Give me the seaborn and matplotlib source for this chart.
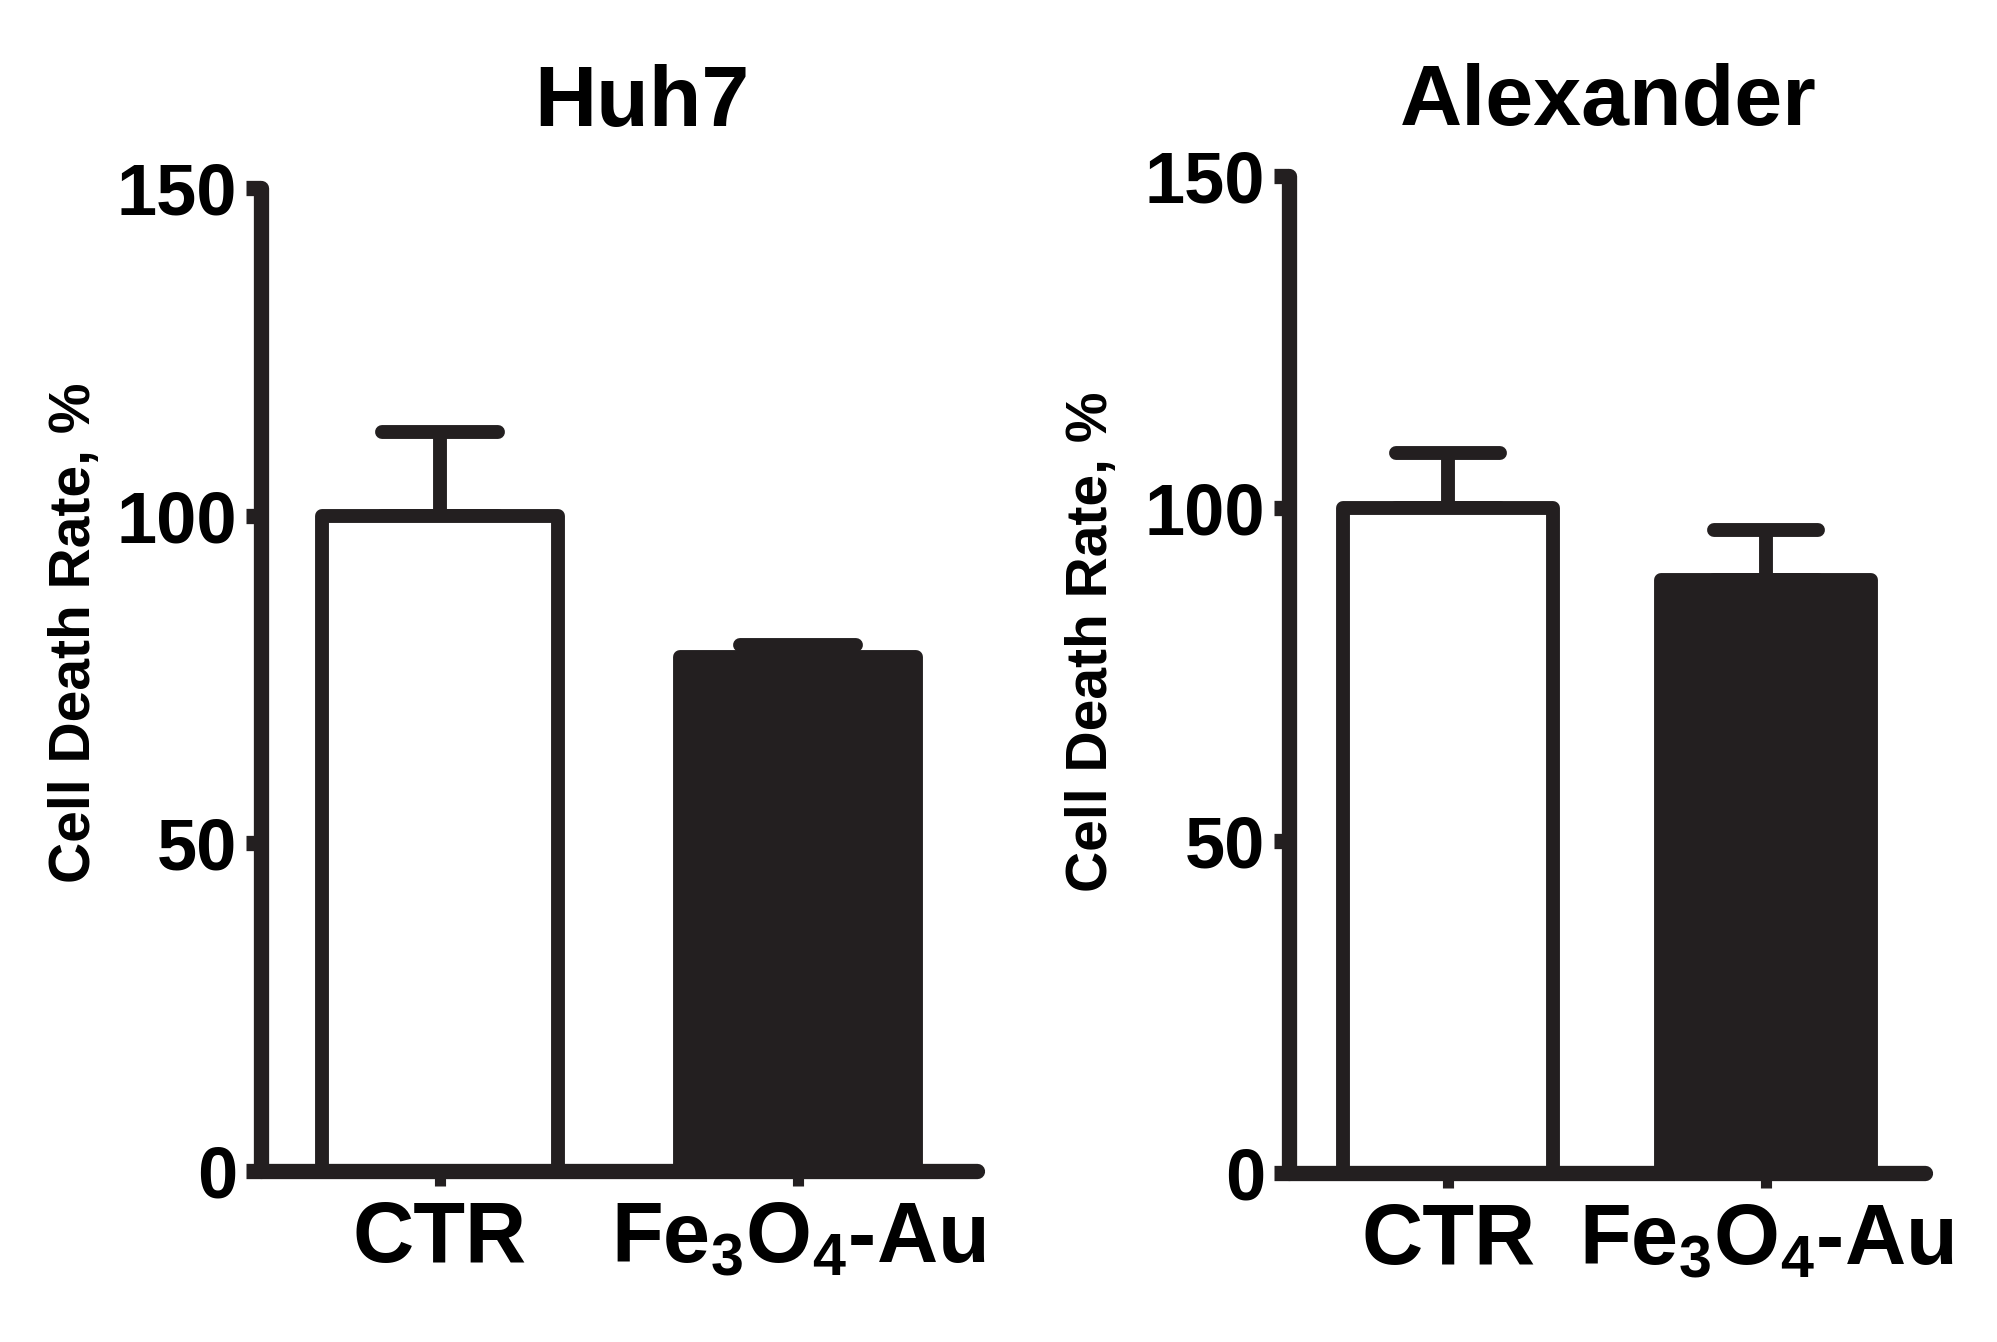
import matplotlib
matplotlib.use("Agg")
import matplotlib.pyplot as plt
from matplotlib.markers import MarkerStyle
import seaborn as sns
import pandas as pd

# ---- data ----
groups = ["CTR", r"Fe$_3$O$_4$-Au"]
huh7_mean = [100.0, 78.5]
huh7_err = [12.8, 1.8]
alex_mean = [100.0, 89.2]
alex_err = [8.3, 7.5]
titles = ["Huh7", "Alexander"]
yticks = [0, 50, 100, 150]
ylabel = "Cell Death Rate, %"

DARK = "#231f20"
bar_colors = ["white", DARK]

sns.set_style("ticks")
plt.rcParams["font.family"] = ["Liberation Sans", "DejaVu Sans"]
plt.rcParams["font.weight"] = "bold"
plt.rcParams["text.color"] = "black"
plt.rcParams["mathtext.fontset"] = "custom"
plt.rcParams["mathtext.rm"] = "Liberation Sans:bold"
plt.rcParams["mathtext.it"] = "Liberation Sans:bold"
plt.rcParams["mathtext.bf"] = "Liberation Sans:bold"
plt.rcParams["mathtext.default"] = "regular"

fig = plt.figure(figsize=(19.97, 13.42), dpi=100)
ax1 = fig.add_axes([0.1307, 0.1274, 0.3585, 0.7325])
ax2 = fig.add_axes([0.6455, 0.1259, 0.3185, 0.7429])

panels = [
    (ax1, huh7_mean, huh7_err, titles[0], 0.532, 44.6, 42, (-0.222, 0.548)),
    (ax2, alex_mean, alex_err, titles[1], 0.502, 36.7, 37.5, (-0.267, 0.533)),
]

for ax, means, errs, title, tx, tpad, capsize, lab in panels:
    df = pd.DataFrame({"group": groups, "rate": means})
    sns.barplot(data=df, x="group", y="rate", hue="group", palette=bar_colors,
                edgecolor=DARK, linewidth=10, width=0.66, errorbar=None,
                legend=False, saturation=1, ax=ax, zorder=2)
    for p in ax.patches:
        p.set_joinstyle("round")
    eb = ax.errorbar(x=list(range(len(groups))), y=means,
                     yerr=[[0] * len(errs), errs], fmt="none", ecolor=DARK,
                     elinewidth=10, capsize=capsize, capthick=10, zorder=1)
    for cl in eb[1]:
        cl.set_marker(MarkerStyle("_", capstyle="round"))
    ax.set_xlim(-0.5, 1.5)
    ax.set_ylim(0, 150)
    ax.set_yticks(yticks)
    ax.set_xlabel("")
    ax.set_ylabel(ylabel, fontsize=41, fontweight="bold", color="black")
    ax.yaxis.set_label_coords(*lab)
    ax.set_title(title, fontsize=62, fontweight="bold", x=tx, pad=tpad,
                 color="black")
    sns.despine(ax=ax)
    for s in ("left", "bottom"):
        ax.spines[s].set_linewidth(11)
        ax.spines[s].set_color(DARK)
        ax.spines[s].set_capstyle("round")
    ax.tick_params(axis="y", length=11, width=11, pad=6, labelsize=52,
                   color=DARK, labelcolor="black")
    ax.tick_params(axis="x", length=11, width=8, pad=10, labelsize=61,
                   color=DARK, labelcolor="black")
    for t in ax.get_xticklabels() + ax.get_yticklabels():
        t.set_fontweight("bold")
    ax.set_facecolor("white")

fig.savefig("out.png", dpi=100, facecolor="white")
